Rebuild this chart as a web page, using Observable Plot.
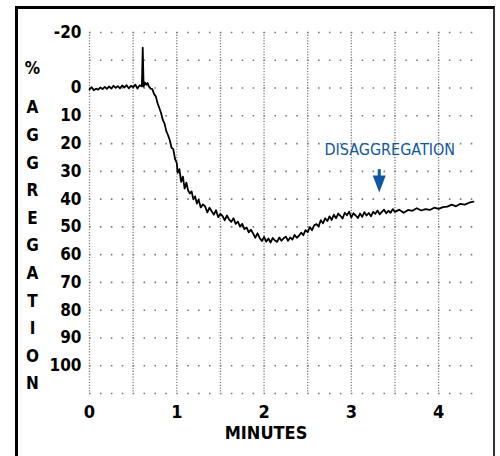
<!DOCTYPE html>
<html>
<head>
<meta charset="utf-8">
<script src="https://cdn.jsdelivr.net/npm/d3@7"></script>
<script src="https://cdn.jsdelivr.net/npm/@observablehq/plot@0.6"></script>
<style>
  html, body { margin: 0; padding: 0; background: #fff; overflow: hidden; }
  #wrap { position: relative; width: 500px; height: 456px; }
  #frame { position: absolute; left: 15px; top: 6px; width: 475px; height: 470px;
           border-top: 3px solid #000; border-left: 3px solid #000; border-right: 2px solid #333;
           pointer-events: none; }
</style>
</head>
<body>
<div id="wrap"><div id="frame"></div></div>
<script>
// ---- data ----
const minutes = [0.000,0.025,0.050,0.075,0.100,0.125,0.150,0.175,0.200,0.225,0.250,0.275,0.300,0.325,0.350,0.375,0.400,0.425,0.450,0.475,0.500,0.525,0.550,0.575,0.600,0.610,0.620,0.635,0.650,0.665,0.680,0.700,0.720,0.740,0.760,0.780,0.800,0.820,0.840,0.860,0.880,0.900,0.920,0.940,0.960,0.980,1.000,1.010,1.030,1.050,1.070,1.090,1.110,1.130,1.150,1.170,1.190,1.210,1.230,1.250,1.275,1.300,1.325,1.350,1.375,1.400,1.425,1.450,1.475,1.500,1.525,1.550,1.575,1.600,1.625,1.650,1.675,1.700,1.725,1.750,1.775,1.800,1.825,1.850,1.875,1.900,1.925,1.950,1.975,2.000,2.025,2.050,2.075,2.100,2.125,2.150,2.175,2.200,2.225,2.250,2.275,2.300,2.325,2.350,2.375,2.400,2.425,2.450,2.475,2.500,2.525,2.550,2.575,2.600,2.625,2.650,2.675,2.700,2.725,2.750,2.775,2.800,2.825,2.850,2.875,2.900,2.925,2.950,2.975,3.000,3.025,3.050,3.075,3.100,3.125,3.150,3.175,3.200,3.225,3.250,3.275,3.300,3.325,3.350,3.375,3.400,3.425,3.450,3.475,3.500,3.550,3.600,3.650,3.700,3.750,3.800,3.850,3.900,3.950,4.000,4.050,4.100,4.150,4.200,4.250,4.300,4.350,4.400];
const aggregation = [0.5,-0.3,0.8,0.2,0.6,-0.2,0.4,-0.4,0.3,-0.6,0.2,-0.8,-0.1,-0.7,0.1,-0.9,-0.2,-1.0,0.1,-0.8,-0.3,-1.2,0.2,-1.0,-0.6,-14.5,-0.5,-2.0,-1.2,-1.8,-0.6,0.2,0.4,2.2,3.0,5.5,7.2,9.0,11.5,12.8,15.5,17.0,18.8,21.5,22.0,25.5,
  27.0,30.5,29.2,33.8,31.9,36.2,34.1,36.9,38.0,37.2,40.1,39.0,41.6,40.2,43.0,41.9,42.6,44.8,43.1,44.4,45.6,44.0,46.5,45.3,46.1,47.6,45.9,47.4,48.2,46.9,48.9,48.1,49.9,48.9,50.8,50.2,52.0,51.0,52.4,53.9,52.3,54.0,55.1,53.6,55.3,54.2,55.6,54.0,54.9,55.4,53.8,55.0,54.1,53.5,55.0,53.8,54.6,52.9,53.9,53.2,52.1,53.0,51.2,51.9,50.1,51.2,49.4,49.0,49.8,47.6,48.7,46.9,47.9,46.2,47.5,45.6,46.9,45.2,46.0,47.0,44.9,45.8,44.5,46.6,45.1,45.9,46.8,45.2,46.4,44.7,45.9,45.0,46.2,44.6,45.3,44.1,45.5,44.6,43.8,45.1,44.2,44.9,43.6,44.6,43.8,44.9,43.9,44.2,43.3,44.1,43.6,43.9,43.1,43.5,42.9,42.7,42.0,42.6,41.7,42.0,41.3,40.9];

const xTicks = [0, 1, 2, 3, 4];
const yTicks = [-20, 0, 10, 20, 30, 40, 50, 60, 70, 80, 90, 100];
const xGrid = [0, 0.5, 1, 1.5, 2, 2.5, 3, 3.5, 4];
const yGrid = [-20, -10, 0, 10, 20, 30, 40, 50, 60, 70, 80, 90, 100, 110];
const xDomain = [0, 4.4];
const yDomain = [-20, 110];
const xLabel = "MINUTES";
const yLabelTop = "%";
const yLabelWord = "AGGREGATION";
const annotationText = "DISAGGREGATION";
const annotationAt = {x: 3.44, y: 22.4};
const arrowAt = {x: 3.32, top: 29.4, shaftEnd: 32.0, head: 34.6};

// ---- chart ----
const data = minutes.map((t, i) => ({t, v: aggregation[i]}));
const blue = "#0d57a3";
const grid = "#7a7a7a";
const fontStack = "'DejaVu Sans Condensed', 'Liberation Sans Narrow', 'DejaVu Sans', sans-serif";

const headSymbol = {
  draw(ctx) {
    ctx.moveTo(-6.5, -8.5);
    ctx.lineTo(6.5, -8.5);
    ctx.lineTo(0, 8.5);
    ctx.closePath();
  }
};

const chart = Plot.plot({
  width: 500,
  height: 456,
  marginLeft: 89,
  marginRight: 27,
  marginTop: 32,
  marginBottom: 63,
  style: {fontFamily: fontStack, fontWeight: "bold", fontSize: "17px", color: "#000", background: "transparent"},
  x: {domain: xDomain},
  y: {domain: yDomain, reverse: true},
  marks: [
    Plot.ruleY(yGrid, {stroke: grid, strokeWidth: 1.6, strokeDasharray: "1.6,9.306"}),
    Plot.ruleX(xGrid, {stroke: grid, strokeWidth: 1.3, strokeDasharray: "1.2,1.577"}),
    Plot.axisX(xTicks, {tickSize: 0, tickPadding: 12, tickFormat: d => String(d), label: null,
      fontSize: 18, fontWeight: "bold"}),
    Plot.axisY(yTicks, {tickSize: 0, tickPadding: 8, tickFormat: d => String(d), label: null,
      fontSize: 17, fontWeight: "bold"}),
    Plot.text([xLabel], {x: () => 2, frameAnchor: "bottom", dy: 45, dx: 2, text: d => d,
      fontSize: 18, fontWeight: "bold", fill: "#000"}),
    Plot.text([yLabelTop], {frameAnchor: "left", dx: -57, dy: -144, text: d => d,
      fontSize: 17, fontWeight: "bold", fill: "#000", textAnchor: "middle"}),
    Plot.text([yLabelWord.split("").join("\n")], {frameAnchor: "left", dx: -57, dy: 29.6, text: d => d,
      fontSize: 17, fontWeight: "bold", fill: "#000", textAnchor: "middle", lineHeight: 27.6 / 17}),
    Plot.line(data, {x: "t", y: "v", stroke: "#000", strokeWidth: 1.8, strokeLinejoin: "round"}),
    Plot.text([annotationText], {x: () => annotationAt.x, y: () => annotationAt.y, text: d => d,
      fill: blue, fontSize: 16, fontWeight: "normal", fontFamily: "'Liberation Sans Narrow', 'DejaVu Sans Condensed', sans-serif"}),
    Plot.ruleX([arrowAt], {x: "x", y1: "top", y2: "shaftEnd", stroke: blue, strokeWidth: 3}),
    Plot.dot([arrowAt], {x: "x", y: "head", symbol: headSymbol, fill: blue, stroke: "none", r: 6})
  ]
});

document.getElementById("wrap").insertBefore(chart, document.getElementById("frame"));
</script>
</body>
</html>
